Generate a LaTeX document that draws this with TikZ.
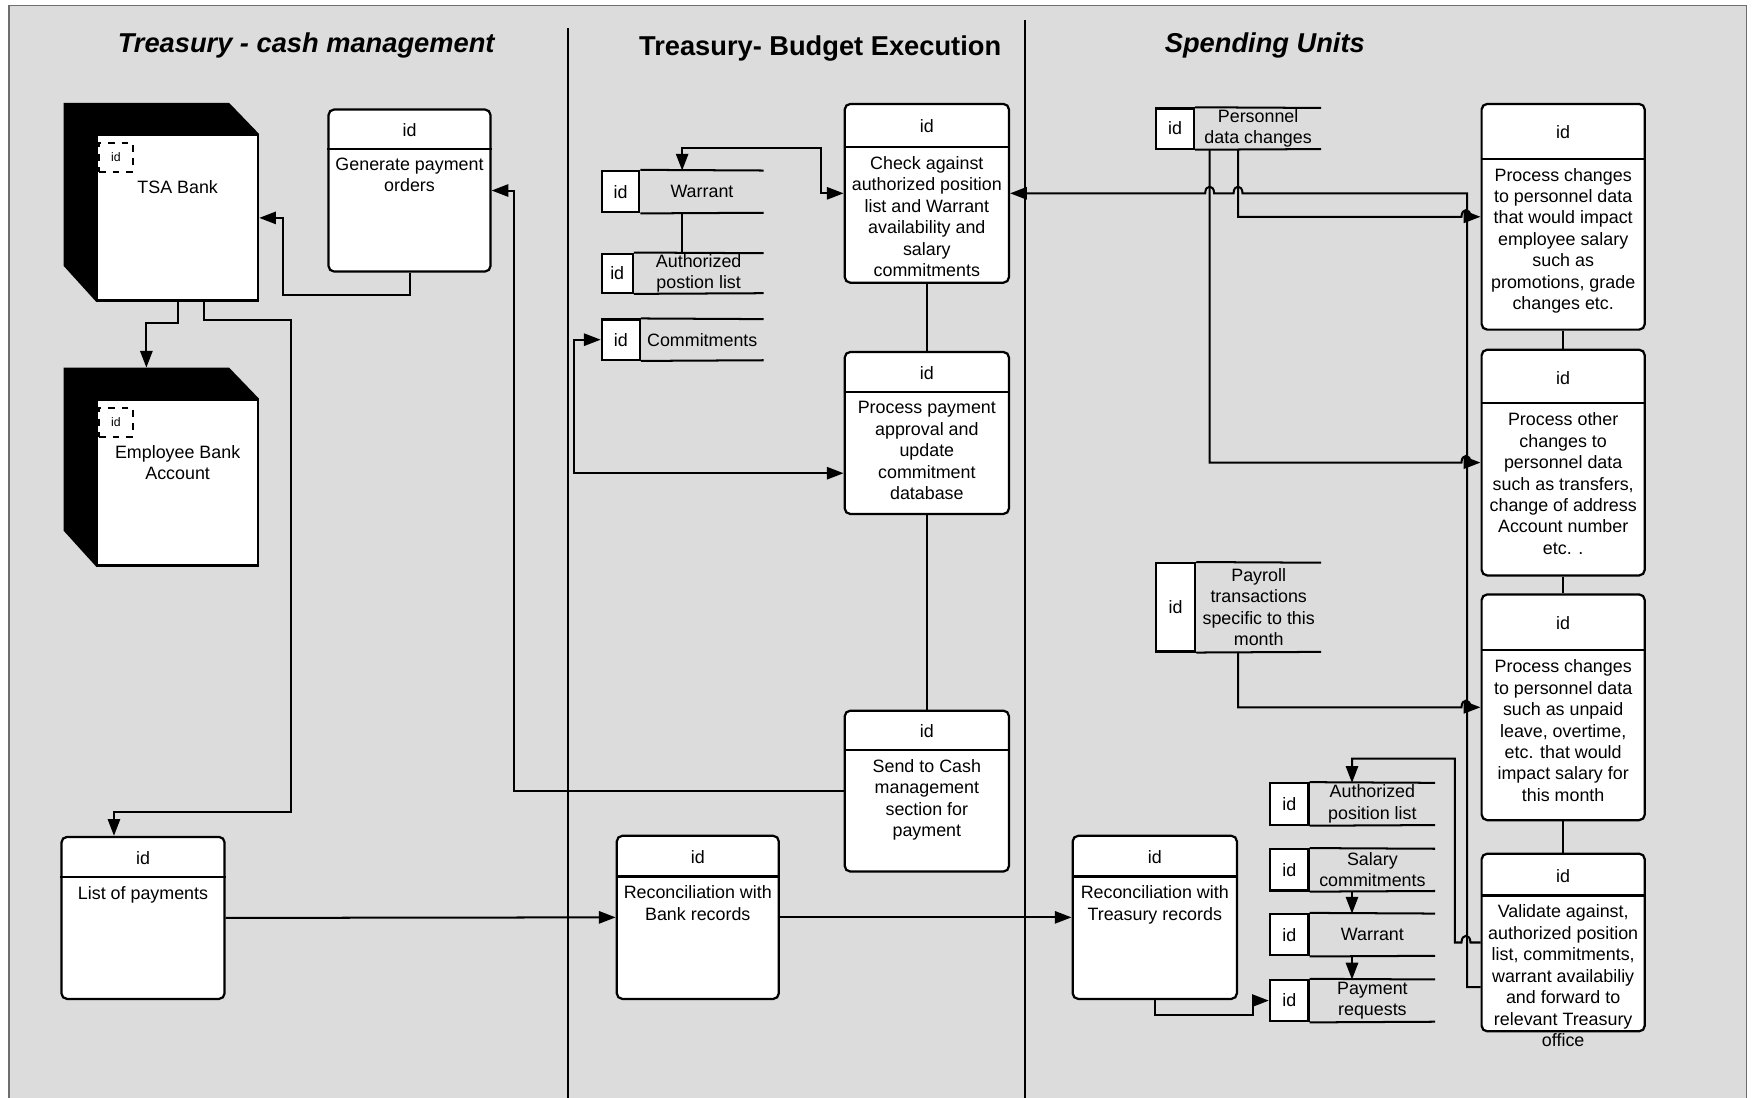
\documentclass[tikz,border=0pt]{standalone}
\usepackage{fontspec}
\setmainfont{Liberation Sans}
\usetikzlibrary{arrows.meta,calc,positioning}
\definecolor{laneGray}{HTML}{DCDCDC}
\definecolor{frameGray}{HTML}{6E6E6E}
\newcommand{\pxu}{0.5pt}
\tikzset{
    process/.style={
        draw,
        fill=white,
        rectangle,
        rounded corners=2.5pt,
        line width=1pt,
        inner sep=0pt
    },
    procid/.style={
        font=\fontsize{8}{9.6}\selectfont,
        inner sep=0pt
    },
    proctext/.style={
        font=\fontsize{8}{9.6}\selectfont,
        align=center,
        inner sep=0pt
    },
    divline/.style={
        line width=1pt
    },
    storebox/.style={
        inner sep=0pt
    },
    storeid/.style={
        draw,
        fill=white,
        line width=1pt,
        inner sep=0pt,
        font=\fontsize{8}{9.6}\selectfont
    },
    storetext/.style={
        font=\fontsize{8}{9.6}\selectfont,
        align=center,
        inner sep=0pt
    },
    bankface/.style={
        draw,
        fill=white,
        line width=1pt,
        minimum width=144*\pxu,
        minimum height=148*\pxu,
        inner sep=0pt
    },
    bankid/.style={
        draw,
        dashed,
        fill=white,
        line width=0.8pt,
        minimum width=30*\pxu,
        minimum height=26*\pxu,
        inner sep=0pt,
        font=\fontsize{5.5}{6}\selectfont
    },
    banktext/.style={
        font=\fontsize{8}{9.6}\selectfont,
        align=center,
        inner sep=0pt
    },
    lanetitle/.style={
        font=\fontsize{12.2}{14}\selectfont\bfseries,
        inner sep=0pt
    },
    laneline/.style={
        line width=0.9pt
    },
    link/.style={
        line width=0.9pt
    },
    arrow/.style={
        -{Triangle[length=7.5pt,width=5.5pt]},
        line width=0.9pt
    },
    biarrow/.style={
        {Triangle[length=7.5pt,width=5.5pt]}-{Triangle[length=7.5pt,width=5.5pt]},
        line width=0.9pt
    },
    hopR/.style={insert path={.. controls +(0,-8) and +(0,-8) .. ++(8,0)}},
    hopL/.style={insert path={.. controls +(0,-8) and +(0,-8) .. ++(-8,0)}}
}
% process box: name, x, y, width, height, header height, text
\newcommand{\procbox}[7]{%
    \node[process, minimum width=#4*\pxu, minimum height=#5*\pxu] (#1) at (#2+#4/2,#3+#5/2) {};
    \path (#1.north) ++(0,#6) coordinate (#1-div);
    \node[procid] at ($(#1.north)!0.5!(#1-div)+(0,1.5)$) {id};
    \draw[divline] (#1.west |- #1-div) -- (#1.east |- #1-div);
    \node[proctext, anchor=north] at ([yshift=-4pt]#1-div) {#7};
}
% data store: name, x, y, width, height, id cell width, text
\newcommand{\datastore}[7]{%
    \node[storebox, minimum width=#4*\pxu, minimum height=#5*\pxu] (#1) at (#2+#4/2,#3+#5/2) {};
    \node[storeid, minimum width=#6*\pxu, minimum height=#5*\pxu, anchor=west] (#1-id) at (#1.west) {id};
    \draw[link] (#1-id.north east) -- (#1.north east) (#1-id.south east) -- (#1.south east);
    \node[storetext] at ($(#1-id.east)!0.5!(#1.east)$) {#7};
}
% bank: name, x, y (top left of the white face), text
\newcommand{\bank}[4]{%
    \node[bankface, anchor=north west] (#1) at (#2,#3) {};
    \fill (#1.south west) -- (#1.north west) -- (#1.north east) -- ++(-27,-28)
        -- ++(-148,0) coordinate[pos=0.5] (#1-top) -- ++(0,146) -- cycle;
    \node[bankid, anchor=north west] at ([shift={(1pt,-3.5pt)}]#1.north west) {id};
    \node[banktext, anchor=north] at ([yshift=-20.5pt]#1.north) {#4};
}

\begin{document}
\begin{tikzpicture}[x=\pxu, y=-\pxu]
    \useasboundingbox (0,0) rectangle (1568,982);
    % lanes
    \fill[laneGray] (8,5) rectangle (1563,990);
    \draw[frameGray, line width=0.8pt] (8,990) -- (8,5) -- (1563,5) -- (1563,990);
    \draw[laneline] (508,25) -- (508,990);
    \draw[laneline] (917,18) -- (917,990);
    \node[lanetitle, font=\fontsize{12.2}{14}\selectfont\bfseries\itshape] (titlecash) at (274,41) {Treasury - cash management};
    \node[lanetitle] (titlebudget) at (734,43) {Treasury- Budget Execution};
    \node[lanetitle, font=\fontsize{12.2}{14}\selectfont\bfseries\itshape] (titlespend) at (1132,41) {Spending Units};

    % Treasury - cash management
    \bank{tsa}{86}{120}{TSA Bank}
    \bank{eba}{86}{357}{Employee Bank\\Account}
    \procbox{gen}{294}{98}{145}{145}{36}{Generate payment\\orders}
    \procbox{listpay}{55}{749}{146}{145}{37}{List of payments}

    % Treasury - budget execution
    \procbox{check}{756}{93}{147}{160}{39.5}{Check against\\authorized position\\list and  Warrant\\availability and\\salary\\commitments}
    \procbox{procpay}{756}{315}{147}{145}{37}{Process payment\\approval and\\update\\commitment\\database}
    \procbox{sendcash}{756}{636}{147}{144}{36}{Send to Cash\\management\\section for\\payment}
    \procbox{reconbank}{552}{748}{145}{146}{37.5}{Reconciliation with\\Bank records}
    \datastore{warranttr}{538}{153}{145}{37}{33.5}{Warrant}
    \datastore{postr}{538}{227}{145}{35}{27.6}{Authorized\\postion list}
    \datastore{committr}{538}{286}{145}{36}{34}{Commitments}

    % Spending units
    \procbox{recontreas}{960}{748}{147}{146}{37.5}{Reconciliation with\\Treasury records}
    \procbox{salaryimpact}{1326}{93}{146}{202}{50}{Process changes\\to personnel data\\that would impact\\employee salary\\such as\\promotions, grade\\changes etc.}
    \procbox{otherchg}{1326}{313}{146}{202}{49}{Process other\\changes to\\personnel data\\such as transfers,\\change of address\\Account number\\etc. .}
    \procbox{monthchg}{1326}{532}{146}{202}{51}{Process changes\\to personnel data\\such as unpaid\\leave, overtime,\\etc. that would\\impact salary for\\this month}
    \procbox{validate}{1326}{764}{146}{159}{38.5}{Validate against,\\authorized position\\list, commitments,\\warrant availabiliy\\and forward to\\relevant Treasury\\office}
    \datastore{persdata}{1034}{97}{148}{36}{34}{Personnel\\data changes}
    \datastore{payrolltx}{1034}{504}{148}{79}{35}{Payroll\\transactions\\specific to this\\month}
    \datastore{possu}{1136}{701}{148}{37}{34.5}{Authorized\\position list}
    \datastore{salarysu}{1136}{760}{148}{37}{34.5}{Salary\\commitments}
    \datastore{warrantsu}{1136}{818}{148}{37}{34.5}{Warrant}
    \datastore{payreq}{1136}{877}{148}{37}{34.5}{Payment\\requests}

    % connectors, cash management
    \draw[arrow] (gen.south) |- (253,264) |- (tsa.east);
    \draw[arrow] (tsa.south) -- ++(0,19) -| (eba-top);
    \draw[arrow] ([xshift=12pt]tsa.south) |- (260,286) -- (260,727) -| ([xshift=-13pt]listpay.north);
    \draw[arrow] (sendcash.west) -- ++(-295,0) |- (gen.east);
    \draw[arrow] (listpay.east) -- (reconbank.west);
    \draw[arrow] (reconbank.east) -- (recontreas.west);

    % connectors, budget execution
    \draw[link] (check.south) -- (procpay.north);
    \draw[link] (procpay.south) -- (sendcash.north);
    \draw[biarrow] (warranttr.north) |- (734.5,132.5) |- (check.west);
    \draw[link] (warranttr.south) -- (postr.north);
    \draw[biarrow] (committr.west) -- ++(-23.5,0) |- ([yshift=-18pt]procpay.west);

    % connectors, spending units
    \draw[link] (salaryimpact.south) -- (otherchg.north);
    \draw[link] (otherchg.south) -- (monthchg.north);
    \draw[link] (monthchg.south) -- (validate.north);
    \draw[arrow] (persdata.south) |- ([xshift=-8.5pt]salaryimpact.west) [hopR] -- (salaryimpact.west);
    \draw[arrow] ([xshift=-12.7pt]persdata.south) |- ([xshift=-8.5pt]otherchg.west) [hopR] -- (otherchg.west);
    \draw[arrow] (payrolltx.south) |- ([xshift=-8.5pt]monthchg.west) [hopR] -- (monthchg.west);
    \draw[arrow] ([yshift=-20pt]validate.west) -| (1313,173) -- (1112,173) [hopL] -- (1086.6,173) [hopL] -- (check.east);
    \draw[arrow] (validate.west) -- ++(-9,0) [hopL] -- ++(-6,0) -- ++(0,-164.5) -| (possu.north);
    \draw[arrow] (salarysu.south) -- (warrantsu.north);
    \draw[arrow] (warrantsu.south) -- (payreq.north);
    \draw[arrow] (recontreas.south) |- (1121.5,908.5) |- (payreq.west);
\end{tikzpicture}
\end{document}
